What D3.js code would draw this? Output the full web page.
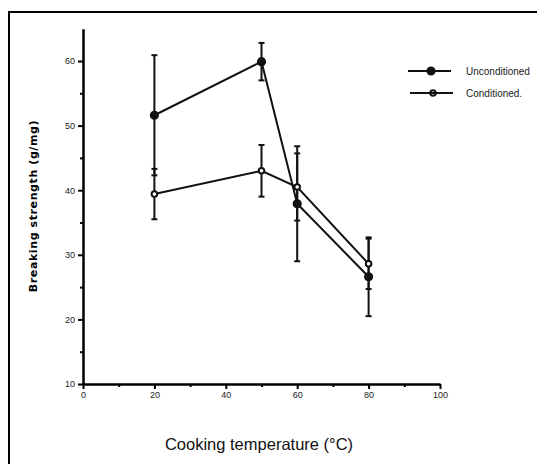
<!DOCTYPE html>
<html>
<head>
<meta charset="utf-8">
<script src="https://cdn.jsdelivr.net/npm/d3@7.9.0/dist/d3.min.js"></script>
<style>
  body { margin: 0; background: #fff; }
  svg { display: block; }
  .tick text { font-family: "Liberation Sans", Arial, sans-serif; font-size: 9px; fill: #222; }
</style>
</head>
<body>
<svg width="537" height="464"></svg>
<script>
// data
const temps = [20, 50, 60, 80];
const unconditioned = [51.6, 59.9, 37.9, 26.6];
const unconditionedErr = [9.3, 2.9, 8.9, 6.1];
const conditioned = [39.4, 43.0, 40.5, 28.6];
const conditionedErr = [3.9, 4.0, 5.2, 3.9];
const xTicks = [0, 20, 40, 60, 80, 100];
const xMinor = [10, 30, 50, 70, 90];
const yTicks = [10, 20, 30, 40, 50, 60];
const yMinor = [15, 25, 35, 45, 55];

const svg = d3.select('svg');

// frame (only top/left visible in the picture)
svg.append('rect')
  .attr('x', 9).attr('y', 12).attr('width', 560).attr('height', 480)
  .attr('fill', 'none').attr('stroke', '#000').attr('stroke-width', 2);

const x = d3.scaleLinear().domain([0, 100]).range([83, 440]);
const y = d3.scaleLinear().domain([10, 65]).range([384, 28.7]);

// axes
svg.append('g').attr('transform', `translate(0,${y(10)})`)
  .call(d3.axisBottom(x).tickValues(xTicks).tickSize(5).tickSizeOuter(0).tickPadding(3));
svg.append('g').attr('transform', `translate(0,${y(10)})`)
  .call(d3.axisBottom(x).tickValues(xMinor).tickSize(3).tickFormat(''))
  .select('.domain').remove();
svg.append('g').attr('transform', `translate(${x(0)},0)`)
  .call(d3.axisLeft(y).tickValues(yTicks).tickSize(5).tickSizeOuter(0).tickPadding(3));
svg.append('g').attr('transform', `translate(${x(0)},0)`)
  .call(d3.axisLeft(y).tickValues(yMinor).tickSize(3).tickFormat(''))
  .select('.domain').remove();

svg.selectAll('.domain').attr('stroke-width', 2.5);
svg.selectAll('.tick line').attr('stroke-width', 2);

// axis titles
svg.append('text')
  .attr('x', 259).attr('y', 450)
  .attr('text-anchor', 'middle')
  .style('font-family', '"Liberation Sans", Arial, sans-serif')
  .style('font-size', '16.5px')
  .style('fill', '#111')
  .text('Cooking temperature (°C)');

svg.append('text')
  .attr('transform', 'translate(37,206) rotate(-90)')
  .attr('text-anchor', 'middle')
  .style('font-family', '"DejaVu Sans", Verdana, sans-serif')
  .style('font-size', '11px')
  .style('font-weight', 'bold')
  .style('letter-spacing', '0.6px')
  .style('fill', '#000')
  .text('Breaking strength (g/mg)');

function drawSeries(vals, errs, filled) {
  let pts = temps.map((t, i) => ({ t: t, v: vals[i], e: errs[i] }));
  let g = svg.append('g');

  // error bars
  pts.forEach(p => {
    g.append('line')
      .attr('x1', x(p.t)).attr('x2', x(p.t))
      .attr('y1', y(p.v - p.e)).attr('y2', y(p.v + p.e))
      .attr('stroke', '#111').attr('stroke-width', 2);
    [p.v - p.e, p.v + p.e].forEach(c => {
      g.append('line')
        .attr('x1', x(p.t) - 3).attr('x2', x(p.t) + 3)
        .attr('y1', y(c)).attr('y2', y(c))
        .attr('stroke', '#111').attr('stroke-width', 2);
    });
  });

  let line = d3.line().x(d => x(d.t)).y(d => y(d.v));
  g.append('path').attr('d', line(pts))
    .attr('fill', 'none').attr('stroke', '#111').attr('stroke-width', 2);

  g.selectAll('circle').data(pts).join('circle')
    .attr('cx', d => x(d.t)).attr('cy', d => y(d.v))
    .attr('r', filled ? 3.6 : 2.8)
    .attr('fill', filled ? '#111' : '#fff')
    .attr('stroke', '#111').attr('stroke-width', 2);
}

drawSeries(unconditioned, unconditionedErr, true);
drawSeries(conditioned, conditionedErr, false);

// legend
const legend = [
  { label: 'Unconditioned', filled: true, y: 71, x0: 408 },
  { label: 'Conditioned.', filled: false, y: 93, x0: 410 }
];
legend.forEach(d => {
  let g = svg.append('g');
  g.append('line').attr('x1', d.x0).attr('x2', d.x0 + 43)
    .attr('y1', d.y).attr('y2', d.y)
    .attr('stroke', '#111').attr('stroke-width', 2);
  g.append('circle').attr('cx', d.x0 + 23).attr('cy', d.y)
    .attr('r', d.filled ? 3.6 : 2.8)
    .attr('fill', d.filled ? '#111' : 'none')
    .attr('stroke', '#111').attr('stroke-width', 2);
  g.append('text').attr('x', 466).attr('y', d.y + 4)
    .style('font-family', '"Liberation Sans", Arial, sans-serif')
    .style('font-size', '10px')
    .style('fill', '#222')
    .text(d.label);
});
</script>
</body>
</html>
